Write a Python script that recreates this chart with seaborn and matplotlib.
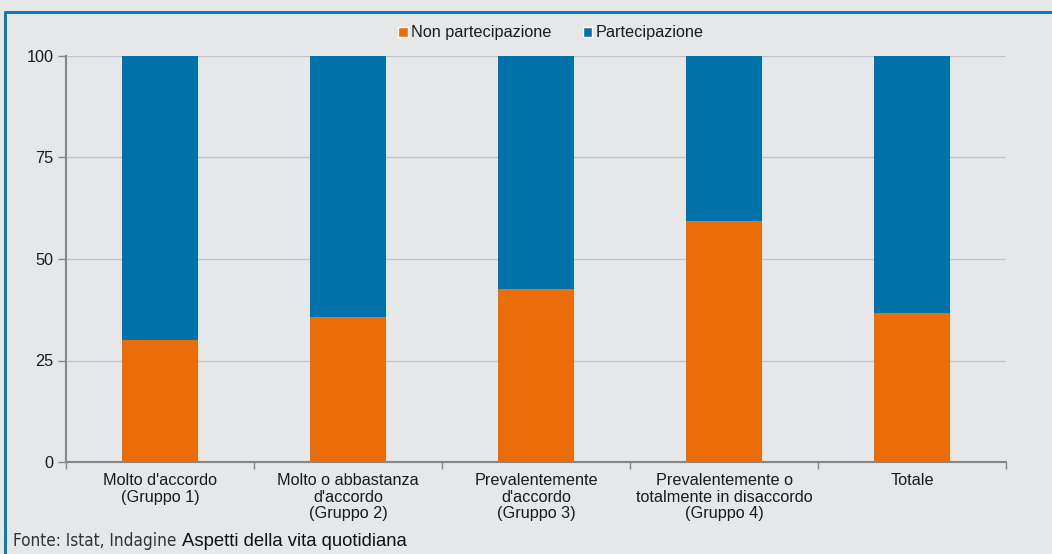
import numpy as np
import pandas as pd
import seaborn as sns
import matplotlib.pyplot as plt
from matplotlib.lines import Line2D
from matplotlib.patches import Patch
from matplotlib.ticker import FixedLocator

categories = [
    "Molto d'accordo\n(Gruppo 1)",
    "Molto o abbastanza\nd'accordo\n(Gruppo 2)",
    "Prevalentemente\nd'accordo\n(Gruppo 3)",
    "Prevalentemente o\ntotalmente in disaccordo\n(Gruppo 4)",
    "Totale",
]
non_partecipazione = [30.1, 35.6, 42.5, 59.4, 36.6]
partecipazione = [69.9, 64.4, 57.5, 40.6, 63.4]
series_names = ["Non partecipazione", "Partecipazione"]

ORANGE = "#EA6D0A"
BLUE = "#0072AA"
BG = "#E6E7E9"

df = pd.DataFrame({
    "categoria": categories,
    "non": non_partecipazione,
    "part": partecipazione,
})
df["totale"] = df["non"] + df["part"]

sns.set_style("white")
plt.rcParams["font.family"] = ["Liberation Sans", "DejaVu Sans"]

fig = plt.figure(figsize=(10.52, 5.54), dpi=100, facecolor=BG)
ax = fig.add_axes([66 / 1052, 1 - 462 / 554, 940 / 1052, 406 / 554])
ax.set_facecolor(BG)

# stacked bars: full height in blue, then orange part on top of it
sns.barplot(data=df, x="categoria", y="totale", color=BLUE, width=0.4,
            saturation=1, linewidth=0, ax=ax, zorder=2)
sns.barplot(data=df, x="categoria", y="non", color=ORANGE, width=0.4,
            saturation=1, linewidth=0, ax=ax, zorder=3)

ax.set_ylim(0, 100)
ax.set_xlim(-0.5, len(categories) - 0.5)
ax.set_yticks([0, 25, 50, 75, 100])
ax.yaxis.grid(True, color="#C4C4C4", linewidth=1)
ax.set_axisbelow(True)
ax.set_xlabel("")
ax.set_ylabel("")

for s in ["top", "right"]:
    ax.spines[s].set_visible(False)
for s in ["left", "bottom"]:
    ax.spines[s].set_color("#868686")
    ax.spines[s].set_linewidth(1.5)

ax.tick_params(axis="y", length=6, width=1, color="#868686", labelsize=11.7,
               pad=3, left=True)
ax.tick_params(axis="x", which="major", length=0, labelsize=11.7, pad=8)
ax.xaxis.set_minor_locator(FixedLocator(np.arange(-0.5, len(categories), 1)))
ax.tick_params(axis="x", which="minor", length=5, width=1, color="#868686",
               bottom=True)
for lab in ax.get_xticklabels():
    lab.set_linespacing(1.14)
    lab.set_color("#1a1a1a")
for lab in ax.get_yticklabels():
    lab.set_color("#1a1a1a")

handles = [Patch(facecolor=ORANGE), Patch(facecolor=BLUE)]
leg = fig.legend(handles, series_names, loc="center",
                 bbox_to_anchor=(551 / 1052, 1 - 33 / 554),
                 ncol=2, frameon=False, fontsize=11.7, handlelength=0.6,
                 handleheight=0.6, handletextpad=0.2, columnspacing=1.9)
for t in leg.get_texts():
    t.set_color("#1a1a1a")

# frame lines (top and left)
fig.add_artist(Line2D([5 / 1052, 1], [1 - 12 / 554, 1 - 12 / 554],
                      transform=fig.transFigure, color="#0A7DB8", linewidth=2.2))
fig.add_artist(Line2D([5 / 1052, 5 / 1052], [0, 1 - 12 / 554],
                      transform=fig.transFigure, color="#0A7DB8", linewidth=2.2))

t1 = fig.text(13 / 1052, 1 - 541 / 554, "Fonte: Istat, Indagine ",
              family=["DejaVu Sans"], stretch="condensed", fontsize=12.3,
              color="#333333", va="center", ha="left")
fig.canvas.draw()
bb = t1.get_window_extent()
fig.text((bb.x1 + 1) / 1052, 1 - 541 / 554, "Aspetti della vita quotidiana",
         fontsize=13.3, color="#111111", va="center", ha="left")

fig.savefig("out.png", dpi=100, facecolor=BG)
